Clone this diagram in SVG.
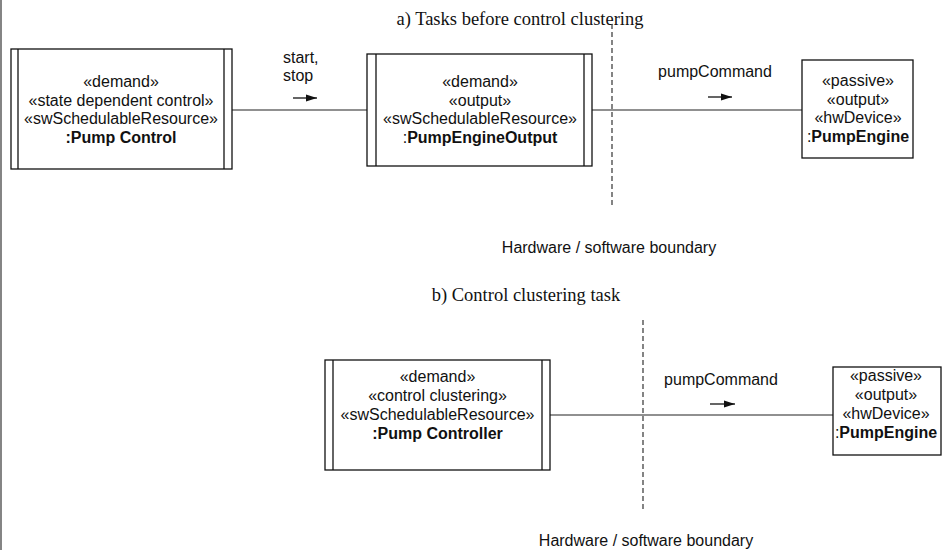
<svg xmlns="http://www.w3.org/2000/svg" width="942" height="550" viewBox="0 0 942 550">
  <style>
    .box { fill: #ffffff; stroke: #111111; stroke-width: 1.3; }
    .bar { stroke: #111111; stroke-width: 1.3; }
    .lbl { font-family: "Liberation Sans", Arial, sans-serif; font-size: 16px; fill: #111111; }
    .mid { text-anchor: middle; }
    .b { font-weight: bold; }
    .title { font-family: "Liberation Serif", "Times New Roman", serif; font-size: 18.5px; fill: #111111; text-anchor: middle; }
    .link { stroke: #222222; stroke-width: 1.2; fill: none; }
    .dir { stroke: #111111; stroke-width: 1.3; fill: none; marker-end: url(#head); }
    .boundary { stroke: #333333; stroke-width: 1.2; stroke-dasharray: 5 3; fill: none; }
  </style>
  <defs>
    <marker id="head" markerWidth="12" markerHeight="9" refX="11" refY="4.5" orient="auto" markerUnits="userSpaceOnUse">
      <path d="M0,1 L11,4.5 L0,8 Z" fill="#111111"/>
    </marker>
  </defs>

  <rect width="942" height="550" fill="#ffffff"/>
  <line x1="1" y1="0" x2="1" y2="550" stroke="#333333" stroke-width="1.2"/>

  <!-- section titles -->
  <text class="title" x="520" y="25">a) Tasks before control clustering</text>
  <text class="title" x="526" y="301">b) Control clustering task</text>

  <!-- connectors -->
  <g id="connectors">
    <line class="link" x1="232" y1="110" x2="367" y2="110"/>
    <line class="link" x1="592" y1="110" x2="802" y2="110"/>
    <line class="link" x1="550" y1="415" x2="833" y2="415"/>
    <line class="dir" x1="293" y1="98" x2="317" y2="98"/>
    <line class="dir" x1="708" y1="97" x2="732" y2="97"/>
    <line class="dir" x1="710" y1="404" x2="735" y2="404"/>
    <text class="lbl" x="283" y="63">start,</text>
    <text class="lbl" x="283" y="81">stop</text>
    <text class="lbl mid" x="715" y="77">pumpCommand</text>
    <text class="lbl mid" x="721" y="385">pumpCommand</text>
  </g>

  <!-- hardware / software boundaries -->
  <g id="boundary-a">
    <line class="boundary" x1="612" y1="24" x2="612" y2="207"/>
    <text class="lbl mid" x="609" y="253">Hardware / software boundary</text>
  </g>
  <g id="boundary-b">
    <line class="boundary" x1="643" y1="320" x2="643" y2="512"/>
    <text class="lbl mid" x="646" y="546">Hardware / software boundary</text>
  </g>

  <!-- a) tasks -->
  <g id="pump-control">
    <rect class="box" x="11" y="49" width="221" height="120"/>
    <line class="bar" x1="18" y1="49" x2="18" y2="169"/>
    <line class="bar" x1="224" y1="49" x2="224" y2="169"/>
    <text class="lbl mid" x="121" y="87">«demand»</text>
    <text class="lbl mid" x="121" y="105.5">«state dependent control»</text>
    <text class="lbl mid" x="121" y="124">«swSchedulableResource»</text>
    <text class="lbl mid b" x="121" y="142.5">:Pump Control</text>
  </g>

  <g id="pump-engine-output">
    <rect class="box" x="367" y="54" width="225" height="112"/>
    <line class="bar" x1="376" y1="54" x2="376" y2="166"/>
    <line class="bar" x1="584" y1="54" x2="584" y2="166"/>
    <text class="lbl mid" x="480" y="87">«demand»</text>
    <text class="lbl mid" x="480" y="105.5">«output»</text>
    <text class="lbl mid" x="480" y="124">«swSchedulableResource»</text>
    <text class="lbl mid" x="480" y="142.5">:<tspan class="b">PumpEngineOutput</tspan></text>
  </g>

  <g id="pump-engine-a">
    <rect class="box" x="802" y="60" width="111" height="98"/>
    <text class="lbl mid" x="858" y="86">«passive»</text>
    <text class="lbl mid" x="858" y="104.5">«output»</text>
    <text class="lbl mid" x="858" y="123">«hwDevice»</text>
    <text class="lbl mid" x="858" y="142">:<tspan class="b">PumpEngine</tspan></text>
  </g>

  <!-- b) clustered task -->
  <g id="pump-controller">
    <rect class="box" x="325" y="360" width="225" height="110"/>
    <line class="bar" x1="333" y1="360" x2="333" y2="470"/>
    <line class="bar" x1="542" y1="360" x2="542" y2="470"/>
    <text class="lbl mid" x="437.5" y="382">«demand»</text>
    <text class="lbl mid" x="437.5" y="401">«control clustering»</text>
    <text class="lbl mid" x="437.5" y="420">«swSchedulableResource»</text>
    <text class="lbl mid b" x="437.5" y="439">:Pump Controller</text>
  </g>

  <g id="pump-engine-b">
    <rect class="box" x="833" y="367" width="108" height="88"/>
    <text class="lbl mid" x="886" y="381">«passive»</text>
    <text class="lbl mid" x="886" y="400">«output»</text>
    <text class="lbl mid" x="886" y="419">«hwDevice»</text>
    <text class="lbl mid" x="886" y="438">:<tspan class="b">PumpEngine</tspan></text>
  </g>
</svg>
